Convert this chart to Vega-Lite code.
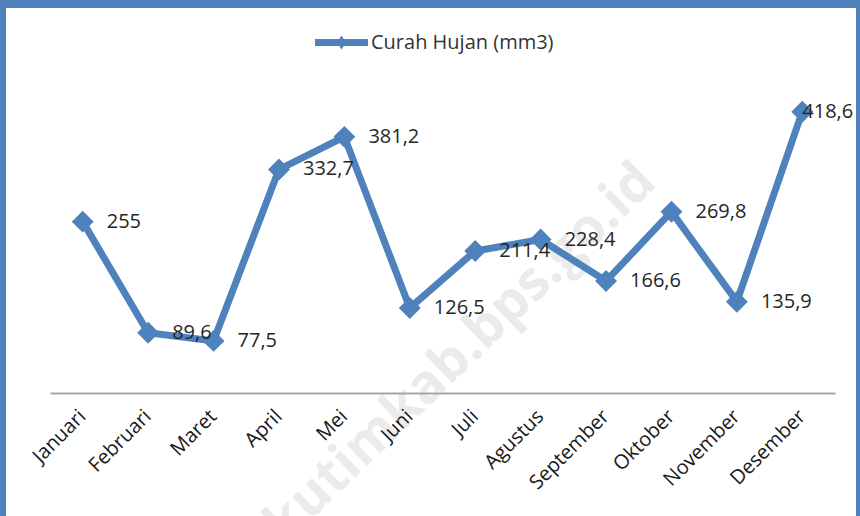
{
  "$schema": "https://vega.github.io/schema/vega-lite/v6.json",
  "width": 850,
  "height": 508,
  "autosize": {"type": "none"},
  "padding": {"left": 6, "top": 8, "right": 4, "bottom": 0},
  "background": "#4f81bd",
  "config": {
    "view": {"fill": "white", "stroke": null},
    "font": "Open Sans"
  },
  "data": {
    "values": [
      {"m": "Januari", "v": 255, "lbl": "255"},
      {"m": "Februari", "v": 89.6, "lbl": "89,6"},
      {"m": "Maret", "v": 77.5, "lbl": "77,5"},
      {"m": "April", "v": 332.7, "lbl": "332,7"},
      {"m": "Mei", "v": 381.2, "lbl": "381,2"},
      {"m": "Juni", "v": 126.5, "lbl": "126,5"},
      {"m": "Juli", "v": 211.4, "lbl": "211,4"},
      {"m": "Agustus", "v": 228.4, "lbl": "228,4"},
      {"m": "September", "v": 166.6, "lbl": "166,6"},
      {"m": "Oktober", "v": 269.8, "lbl": "269,8"},
      {"m": "November", "v": 135.9, "lbl": "135,9"},
      {"m": "Desember", "v": 418.6, "lbl": "418,6"}
    ]
  },
  "encoding": {
    "x": {
      "field": "m",
      "type": "nominal",
      "sort": null,
      "scale": {
        "type": "band",
        "domain": ["Januari", "Februari", "Maret", "April", "Mei", "Juni", "Juli", "Agustus", "September", "Oktober", "November", "Desember"],
        "range": [44, 829],
        "paddingInner": 0,
        "paddingOuter": 0
      },
      "axis": {
        "title": null,
        "offset": -123,
        "zindex": 1,
        "domainColor": "#a6a6a6",
        "domainWidth": 2,
        "ticks": false,
        "labelAngle": -45,
        "labelAlign": "right",
        "labelBaseline": "middle",
        "labelPadding": 20,
        "labelFontSize": 20,
        "labelColor": "#1a1a1a",
        "labelFont": "Open Sans"
      }
    },
    "y": {
      "field": "v",
      "type": "quantitative",
      "scale": {"domain": [0, 500], "range": [385, 49]},
      "axis": null
    }
  },
  "layer": [
    {
      "data": {"values": [{"m": "Juli", "v": 80, "t": "kutimkab.bps.go.id"}]},
      "mark": {"type": "text", "angle": -44, "fontSize": 54, "fontWeight": "bold", "color": "#ebebeb", "align": "center", "baseline": "middle", "dx": -20},
      "encoding": {"text": {"field": "t"}}
    },
    {
      "mark": {"type": "line", "strokeWidth": 7, "strokeJoin": "miter"},
      "encoding": {
        "color": {
          "datum": "Curah Hujan (mm3)",
          "scale": {"range": ["#4f81bd"]},
          "legend": {
            "title": null,
            "orient": "none",
            "legendX": 309,
            "legendY": 8,
            "symbolType": "M-1,-0.13L1,-0.13L1,0.13L-1,0.13Z M0,-0.26L0.17,0L0,0.26L-0.17,0Z",
            "symbolSize": 2809,
            "symbolFillColor": "#4f81bd",
            "symbolStrokeColor": "#4f81bd",
            "symbolStrokeWidth": 0,
            "labelFontSize": 20,
            "labelColor": "#333333",
            "labelFont": "Open Sans",
            "labelLimit": 0,
            "labelOffset": 3
          }
        }
      }
    },
    {
      "mark": {"type": "point", "shape": "diamond", "size": 480, "filled": true, "opacity": 1, "color": "#4f81bd"}
    },
    {
      "transform": [{"filter": "datum.m !== 'Desember'"}],
      "mark": {"type": "text", "align": "left", "baseline": "middle", "dx": 24, "fontSize": 20, "color": "#262626"},
      "encoding": {"text": {"field": "lbl"}}
    },
    {
      "transform": [{"filter": "datum.m === 'Desember'"}],
      "mark": {"type": "text", "align": "left", "baseline": "middle", "dx": 0, "fontSize": 20, "color": "#262626"},
      "encoding": {"text": {"field": "lbl"}}
    }
  ]
}
